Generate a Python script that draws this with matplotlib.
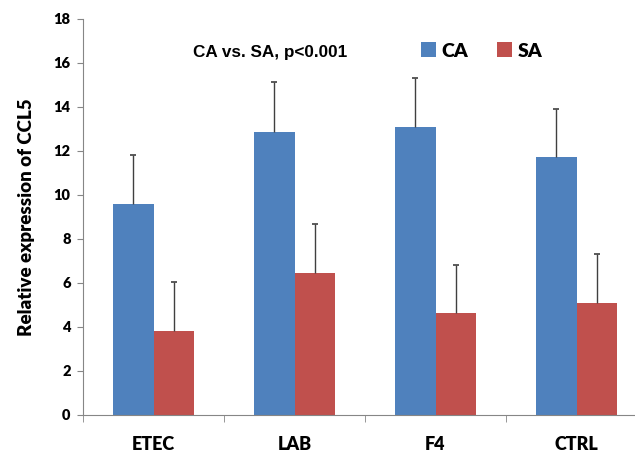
import numpy as np
import matplotlib
matplotlib.use('Agg')
import matplotlib.pyplot as plt

plt.rcParams['font.family'] = ['Lato', 'DejaVu Sans']
plt.rcParams['font.weight'] = 'heavy'

# data
groups = ['ETEC', 'LAB', 'F4', 'CTRL']
ca = [9.58, 12.88, 13.1, 11.72]
sa = [3.84, 6.44, 4.62, 5.1]
ca_err = [2.22, 2.26, 2.22, 2.21]
sa_err = [2.2, 2.24, 2.21, 2.22]

blue = '#4F81BD'
red = '#C0504D'
grey = '#868686'
err_col = '#404040'

fig = plt.figure(figsize=(6.35, 4.54), dpi=100)
ax = fig.add_axes([83/635, 39/454, 564/635, 396/454])

x = np.arange(len(groups))
w = 0.284
ax.bar(x - w/2, ca, w, color=blue, label='CA', zorder=2)
ax.bar(x + w/2, sa, w, color=red, label='SA', zorder=2)

# upper error bars only: stem from bar top plus a small cap
for xs, vals, errs in [(x - w/2, ca, ca_err), (x + w/2, sa, sa_err)]:
    tops = np.array(vals) + np.array(errs)
    ax.vlines(xs, vals, tops, color=err_col, linewidth=1, zorder=3)
    ax.plot(xs, tops, linestyle='none', marker='_', markersize=5, mew=1.2,
            color=err_col, zorder=3)

ax.set_xlim(-0.5, 3.5)
ax.set_ylim(0, 18)
ax.set_yticks(range(0, 19, 2))
ax.set_xticks(x)
ax.set_xticklabels(groups, fontsize=13, fontweight='heavy')
ax.set_xticks(np.arange(-0.5, 4, 1), minor=True)
ax.tick_params(axis='x', which='major', length=0, pad=15)
ax.tick_params(axis='x', which='minor', length=5, color=grey, direction='out')
ax.tick_params(axis='y', length=4, color=grey, direction='out', labelsize=10.5, pad=5)
for lab in ax.get_yticklabels():
    lab.set_fontweight('heavy')

for s in ['top', 'right']:
    ax.spines[s].set_visible(False)
ax.spines['left'].set_color(grey)
ax.spines['bottom'].set_color(grey)

ax.set_ylabel('Relative expression of CCL5', fontsize=13.5, fontweight='heavy', labelpad=13)

fig.text(193/635, 1 - 53/454, 'CA vs. SA, p<0.001', fontsize=12.3, fontweight='bold',
         family=['Liberation Sans', 'DejaVu Sans'], va='center', ha='left')
fig.legend(loc='center left', bbox_to_anchor=(421/635, 1 - 51/454), ncol=2, frameon=False,
           prop={'size': 14, 'weight': 'heavy'}, handlelength=0.75, handleheight=0.8,
           handletextpad=0.3, columnspacing=1.5, borderaxespad=0, borderpad=0)

plt.savefig('out.png', dpi=100)
